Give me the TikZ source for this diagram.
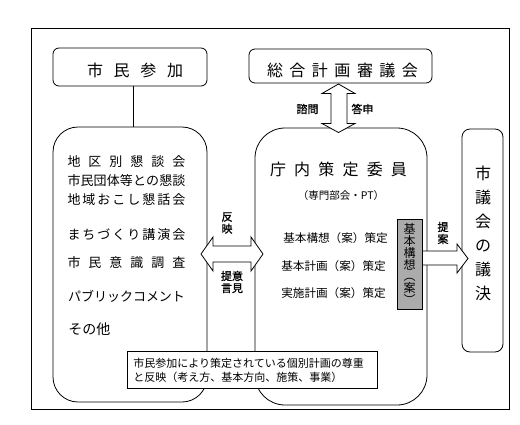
\documentclass[tikz,border=0pt]{standalone}
\usepackage{fontspec}
\setmainfont{Noto Sans CJK JP}
\newfontfamily\lblfont[FakeBold=1.2]{Noto Sans CJK JP}
\usetikzlibrary{calc}
\def\spx#1{#1\spy}
\def\spy#1{\ifx#1\relax\else\hfil#1\expandafter\spy\fi}
\newcommand{\spr}[2]{\makebox[#1][s]{\spx#2\relax}}
\newcommand{\fs}[2]{\fontsize{#1}{#2}\selectfont}
\begin{document}
\begin{tikzpicture}[x=1pt,y=-1pt, line width=0.8pt,
  box/.style={draw, fill=white, inner sep=0pt},
  txt/.style={inner sep=0pt, anchor=center},
  lbl/.style={txt, font=\lblfont\fs{11}{12}},
  blockarrow/.style={draw, fill=white, line join=miter}]
\useasboundingbox (0,0) rectangle (520,424);
% outer frame
\node[draw, inner sep=0pt, minimum width=478pt, minimum height=381pt] (frame) at (270,218.5) {};
% boxes
\node[box, rounded corners=6pt, minimum width=154pt, minimum height=38pt] (shimin) at (130,67) {};
\node[box, rounded corners=6pt, minimum width=183pt, minimum height=34pt] (sogo) at (340.5,66) {};
\node[box, rounded corners=25pt, minimum width=154pt, minimum height=275pt] (lbox) at (130,264.5) {};
\node[box, rounded corners=30pt, minimum width=172pt, minimum height=277pt] (mbox) at (341,266.5) {};
\node[box, rounded corners=8pt, minimum width=41pt, minimum height=223pt] (rbox) at (482.5,240.5) {};
\node[box, fill=black!33, minimum width=25pt, minimum height=90pt] (gbox) at (409.5,264) {};
% connector
\draw ($(shimin.south)+(3,0)$) -- ($(lbox.north)+(3,0)$);
% titles
\node[txt, font=\fs{16}{16}] (shimint) at (135,70) {\spr{96pt}{市民参加}};
\node[txt, font=\fs{16}{16}] (sogot) at (342.5,70) {\spr{151pt}{総合計画審議会}};
% left box texts
\node[txt, font=\fs{13}{13}] (l1) at (126.5,162) {\spr{118pt}{地区別懇談会}};
\node[txt, font=\fs{13}{13}] (l2) at (126.5,181) {\spr{118pt}{市民団体等との懇談}};
\node[txt, font=\fs{13}{13}] (l3) at (126.5,200) {\spr{118pt}{地域おこし懇話会}};
\node[txt, font=\fs{13}{13}] (l4) at (126.5,234.5) {\spr{118pt}{まちづくり講演会}};
\node[txt, font=\fs{13}{13}] (l5) at (126.5,263) {\spr{118pt}{市民意識調査}};
\node[txt, font=\fs{13}{13}] (l6) at (126,296) {\spr{116pt}{パブリックコメント}};
\node[txt, font=\fs{14}{14}, anchor=west] (l7) at (68,329) {その他};
% middle box texts
\node[txt, font=\fs{16}{16}] (m1) at (338.5,169) {\spr{137pt}{庁内策定委員}};
\node[txt, font=\fs{10.5}{10.5}] (m2) at (341,196) {（専門部会・PT）};
\node[txt, font=\fs{11.6}{11.6}] (m3) at (335.5,238) {基本構想（案）策定};
\node[txt, font=\fs{11.6}{11.6}] (m4) at (333.5,266) {基本計画（案）策定};
\node[txt, font=\fs{11.6}{11.6}] (m5) at (333.5,293) {実施計画（案）策定};
% gray box text
\node[txt, align=center, font=\fs{12}{11.8}] (gt) at (gbox.center) {基\\本\\構\\想\\︵\\案\\︶};
% right box text
\node[txt, align=center, font=\fs{16}{24}] (rt) at (483,233) {市\\議\\会\\の\\議\\決};
% block arrows
\draw[blockarrow] (338.5,84) -- (355,93.5) -- (347,93.5) -- (347,123.5) -- (355,123.5)
  -- (338.5,132.5) -- (322,123.5) -- (331,123.5) -- (331,93.5) -- (322,93.5) -- cycle;
\draw[blockarrow] (201,254) -- (213,237) -- (213,246) -- (251,246) -- (251,237) -- (263,254)
  -- (251,271) -- (251,262) -- (213,262) -- (213,271) -- cycle;
\draw[blockarrow] (gbox.east |- 0,251) -- (457,251) -- (457,244) -- (468,258.5) -- (457,273)
  -- (457,265) -- (gbox.east |- 0,265) -- cycle;
% arrow labels
\node[lbl] (shimon) at (307.5,109) {諮問};
\node[lbl] (toshin) at (362.5,109) {答申};
\node[lbl, align=center] (hanei) at (227,223) {反\\映};
\node[lbl, align=center] (iken) at (232,282) {提意\\言見};
\node[lbl, align=center] (teian) at (443,233) {提\\案};
% note box
\node[box, minimum width=250pt, minimum height=37pt] (note) at (252,369.5) {};
\node[txt, anchor=west, align=left, font=\fs{11}{14}] (notet) at (133,370)
  {市民参加により策定されている個別計画の尊重\\と反映（考え方、基本方向、施策、事業）};
\end{tikzpicture}
\end{document}
